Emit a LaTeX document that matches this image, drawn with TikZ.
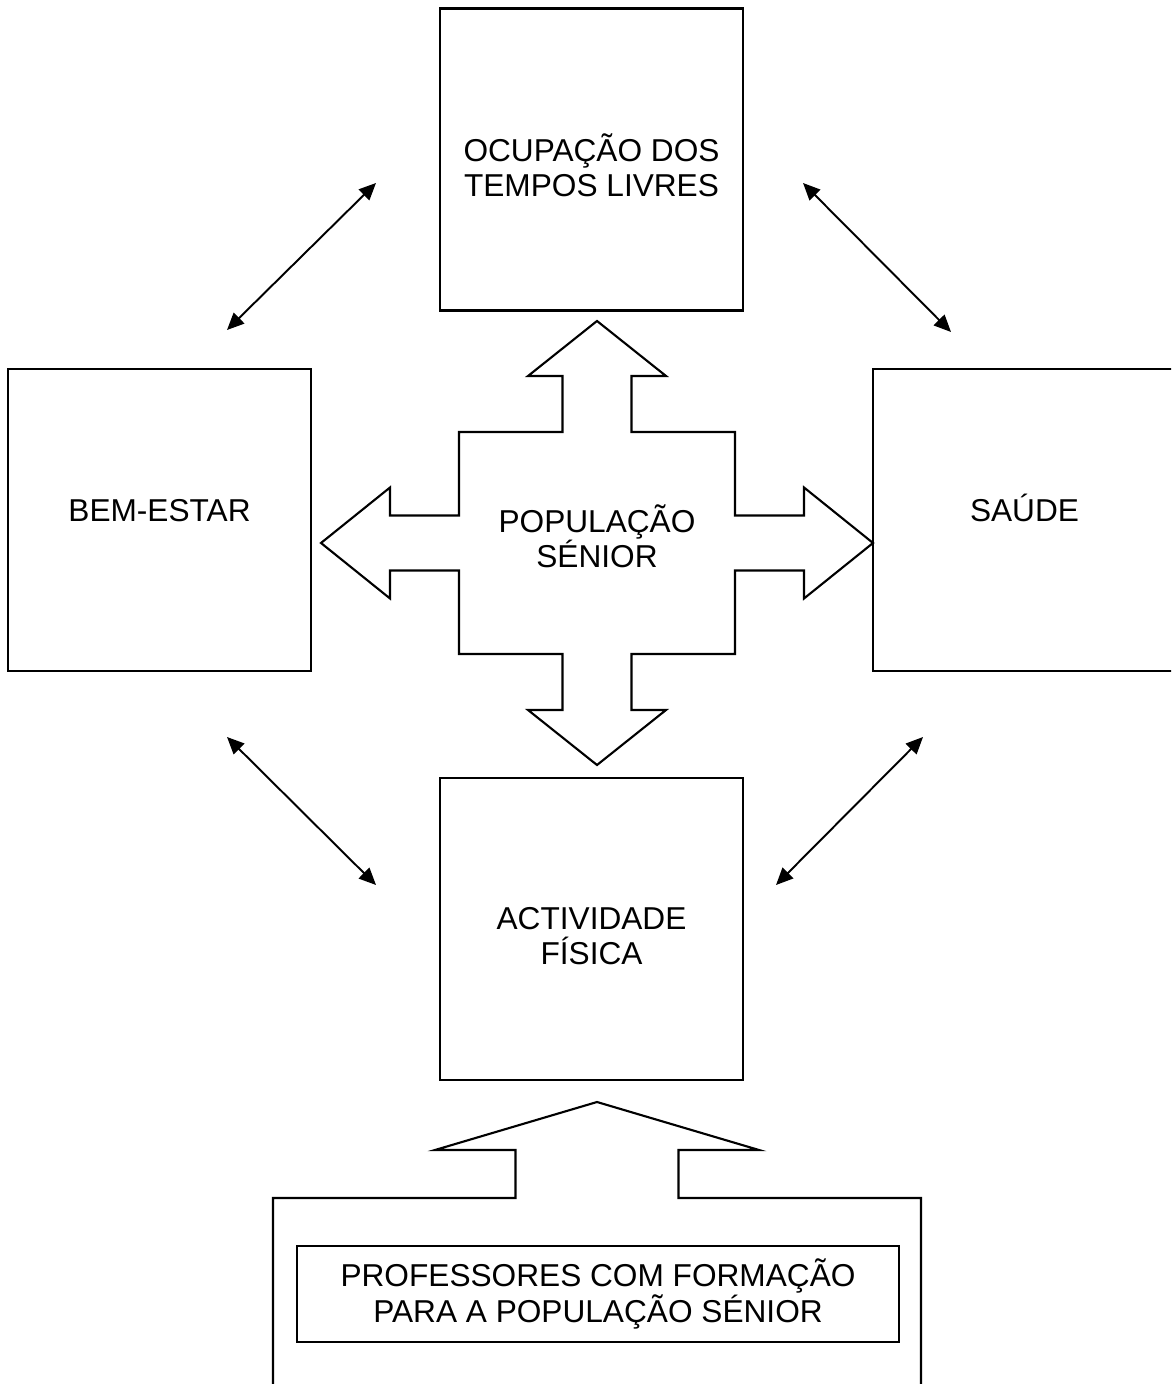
\documentclass[tikz,border=0pt]{standalone}
\usepackage{fontspec}
\setmainfont{Liberation Sans}
\usepackage{tikz}
\usetikzlibrary{calc,positioning,arrows.meta}

\begin{document}
\begin{tikzpicture}[
  caixa/.style={draw, line width=0.6pt, minimum width=3.03cm, minimum height=3.02cm, inner sep=0pt, align=center, font=\fontsize{9}{10}\selectfont},
  texto/.style={align=center, font=\fontsize{9}{10}\selectfont},
  seta/.style={line width=0.55pt, {Triangle[length=0.17cm,width=0.15cm]}-{Triangle[length=0.17cm,width=0.15cm]}}]
\clip (0,0) rectangle (11.71,-13.84);
% caixas
\node [caixa] (ocup) at (5.915,-1.595) {\\[1pt]OCUPAÇÃO DOS\\TEMPOS LIVRES};
\node [caixa] (bem) at (1.595,-5.20) {BEM-ESTAR\\[-4.4pt]};
\node [caixa] (saude) at (10.245,-5.20) {SAÚDE\\[-3.3pt]};
\node [caixa] (activ) at (5.915,-9.29) {\\[0.3pt]ACTIVIDADE\\FÍSICA};
% seta em cruz
\coordinate (c) at (5.97,-5.43);
\draw [line width=0.6pt, shift={(c)}] (0,2.22) -- (0.69,1.67) -- (0.345,1.67) -- (0.345,1.11) -- (1.38,1.11) -- (1.38,0.275) -- (2.07,0.275) -- (2.07,0.555) -- (2.76,0)
  -- (2.07,-0.555) -- (2.07,-0.275) -- (1.38,-0.275) -- (1.38,-1.11) -- (0.345,-1.11) -- (0.345,-1.67) -- (0.69,-1.67) -- (0,-2.22)
  -- (-0.69,-1.67) -- (-0.345,-1.67) -- (-0.345,-1.11) -- (-1.38,-1.11) -- (-1.38,-0.275) -- (-2.07,-0.275) -- (-2.07,-0.555) -- (-2.76,0)
  -- (-2.07,0.555) -- (-2.07,0.275) -- (-1.38,0.275) -- (-1.38,1.11) -- (-0.345,1.11) -- (-0.345,1.67) -- (-0.69,1.67) -- cycle;
\node [texto] (pop) at (5.97,-5.365) {POPULAÇÃO\\SÉNIOR};
% seta de baixo
\draw [line width=0.6pt] (2.73,-13.95) -- (2.73,-11.98) -- (5.155,-11.98) -- (5.155,-11.50) -- (4.35,-11.50) -- (5.97,-11.02)
  -- (7.59,-11.50) -- (6.785,-11.50) -- (6.785,-11.98) -- (9.21,-11.98) -- (9.21,-13.95);
\node [caixa, minimum width=6.02cm, minimum height=0.96cm] (prof) at (5.98,-12.94) {PROFESSORES COM FORMAÇÃO\\PARA A POPULAÇÃO SÉNIOR};
% setas duplas
\coordinate (a1) at (2.27,-3.30);
\coordinate (b1) at (3.76,-1.83);
\coordinate (a2) at (8.03,-1.83);
\coordinate (b2) at (9.51,-3.32);
\coordinate (a3) at (2.27,-7.37);
\coordinate (b3) at (3.76,-8.85);
\coordinate (a4) at (9.23,-7.37);
\coordinate (b4) at (7.76,-8.85);
\foreach \i in {1,2,3,4}
  \draw [seta] (a\i) -- (b\i);
\end{tikzpicture}
\end{document}
